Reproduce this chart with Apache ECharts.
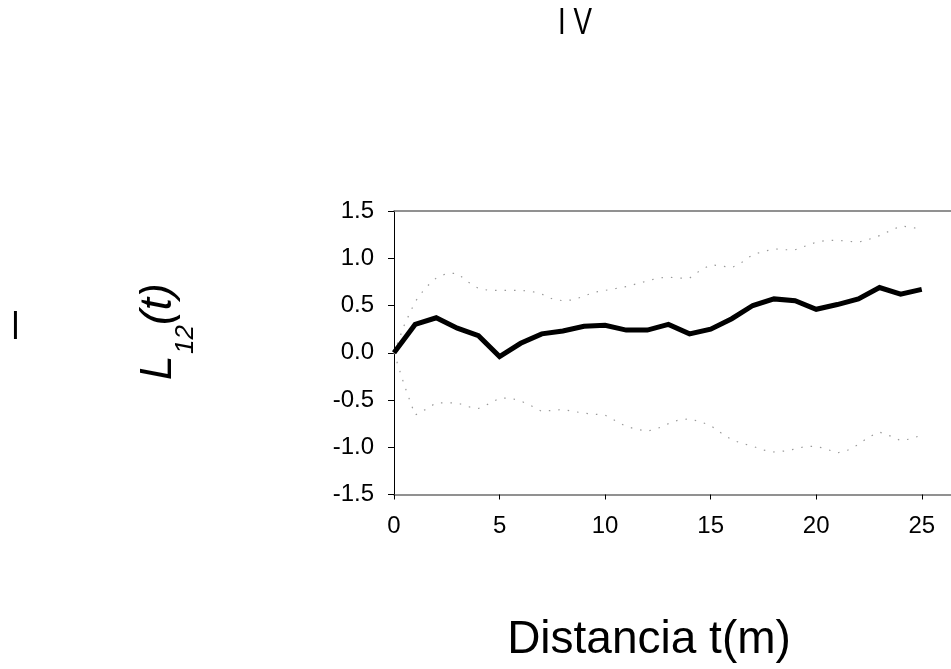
<!DOCTYPE html>
<html><head><meta charset="utf-8">
<script src="https://cdn.jsdelivr.net/npm/echarts@6/dist/echarts.min.js"></script>
<style>html,body{margin:0;padding:0;background:#fff}#c{width:951px;height:669px}</style>
</head><body><div id="c"></div>
<script>
// Observed L12(t) at each distance
const distT = [0,1,2,3,4,5,6,7,8,9,10,11,12,13,14,15,16,17,18,19,20,21,22,23,24,25];
const l12 = [0.00,0.30,0.37,0.26,0.18,-0.04,0.10,0.20,0.23,0.28,0.29,0.24,0.24,0.30,0.20,0.25,0.36,0.50,0.57,0.55,0.46,0.51,0.57,0.69,0.62,0.67];
// Confidence envelope
const envT = [0,0.5,1,1.5,2,2.5,3,3.5,4,4.5,5,5.5,6,6.5,7,7.5,8,8.5,9,9.5,10,10.5,11,11.5,12,12.5,13,13.5,14,14.5,15,15.5,16,16.5,17,17.5,18,18.5,19,19.5,20,20.5,21,21.5,22,22.5,23,23.5,24,24.5,25];
const upperEnv = [0.00,0.30,0.54,0.69,0.79,0.84,0.84,0.75,0.68,0.66,0.66,0.66,0.66,0.65,0.62,0.57,0.55,0.56,0.60,0.64,0.66,0.68,0.70,0.73,0.76,0.79,0.80,0.79,0.79,0.87,0.93,0.92,0.90,0.96,1.04,1.07,1.10,1.09,1.09,1.13,1.17,1.19,1.19,1.18,1.17,1.20,1.24,1.29,1.34,1.33,1.30];
const lowerEnv = [0.00,-0.35,-0.66,-0.60,-0.53,-0.53,-0.53,-0.57,-0.59,-0.54,-0.48,-0.48,-0.51,-0.56,-0.62,-0.61,-0.60,-0.62,-0.64,-0.65,-0.66,-0.72,-0.78,-0.81,-0.83,-0.80,-0.75,-0.71,-0.70,-0.73,-0.77,-0.85,-0.92,-0.96,-0.99,-1.03,-1.05,-1.04,-1.02,-0.99,-0.99,-1.02,-1.06,-1.03,-0.97,-0.89,-0.84,-0.88,-0.93,-0.91,-0.87];
const xTickMin = 0, xTickMax = 30, xTickStep = 5;
const yTickMin = -1.5, yTickMax = 1.5, yTickStep = 0.5;

const zip = (xs, ys) => xs.map((x, i) => [x, ys[i]]);
const chart = echarts.init(document.getElementById('c'), null, {renderer: 'canvas'});
const FF = "'Liberation Sans', Arial, sans-serif";
const pxPerUnit = 21.11;
chart.setOption({
  animation: false,
  backgroundColor: '#fff',
  grid: {left: 394, top: 211, width: pxPerUnit * (xTickMax - xTickMin), height: 283.5, containLabel: false, outerBoundsMode: 'none'},
  xAxis: [{
    type: 'value', min: xTickMin, max: xTickMax, interval: xTickStep, position: 'bottom',
    axisLine: {show: true, onZero: false, lineStyle: {color: '#6e6e6e', width: 1.5}},
    axisTick: {show: true, length: 5, lineStyle: {color: '#000', width: 1}},
    axisLabel: {fontSize: 24, color: '#000', margin: 20, fontFamily: FF},
    splitLine: {show: false}
  }, {
    type: 'value', min: xTickMin, max: xTickMax, position: 'top',
    axisLine: {show: true, onZero: false, lineStyle: {color: '#6e6e6e', width: 1.5}},
    axisTick: {show: false}, axisLabel: {show: false}, splitLine: {show: false}
  }],
  yAxis: {
    type: 'value', min: yTickMin, max: yTickMax, interval: yTickStep,
    axisLine: {show: true, onZero: false, lineStyle: {color: '#000', width: 1}},
    axisTick: {show: true, length: 6, lineStyle: {color: '#000', width: 1}},
    axisLabel: {fontSize: 24, color: '#000', margin: 20, fontFamily: FF, formatter: v => v.toFixed(1)},
    splitLine: {show: false}
  },
  series: [
    {type: 'line', data: zip(envT, upperEnv), symbol: 'none', silent: true,
     lineStyle: {color: '#999', width: 1.2, type: [1.5, 8]}},
    {type: 'line', data: zip(envT, lowerEnv), symbol: 'none', silent: true,
     lineStyle: {color: '#999', width: 1.2, type: [1.5, 8]}},
    {type: 'line', data: zip(distT, l12), symbol: 'none', silent: true,
     lineStyle: {color: '#000', width: 5, join: 'miter'}}
  ],
  graphic: [
    {type: 'text', x: 575, y: 24, scaleX: 0.75, style: {text: 'I V', fontSize: 37, fontFamily: FF, fill: '#000', align: 'center', verticalAlign: 'middle'}},
    {type: 'text', x: 15.5, y: 327.5, scaleX: 0.8, style: {text: 'I', fontSize: 40, fontFamily: FF, fill: '#000', align: 'center', verticalAlign: 'middle'}},
    {type: 'text', x: 649, y: 640, style: {text: 'Distancia t(m)', fontSize: 46, fontFamily: FF, fill: '#000', align: 'center', verticalAlign: 'middle'}},
    {type: 'group', x: 159, y: 380, rotation: Math.PI / 2, children: [
      {type: 'text', x: 0, y: 0, style: {text: 'L', fontSize: 44, fontStyle: 'italic', fontFamily: FF, fill: '#000', align: 'left', verticalAlign: 'middle'}},
      {type: 'text', x: 26, y: 27, style: {text: '12', fontSize: 26, fontStyle: 'italic', fontFamily: FF, fill: '#000', align: 'left', verticalAlign: 'middle'}},
      {type: 'text', x: 55, y: 0, style: {text: '(t)', fontSize: 44, fontStyle: 'italic', fontFamily: FF, fill: '#000', align: 'left', verticalAlign: 'middle'}}
    ]}
  ]
});
</script></body></html>
